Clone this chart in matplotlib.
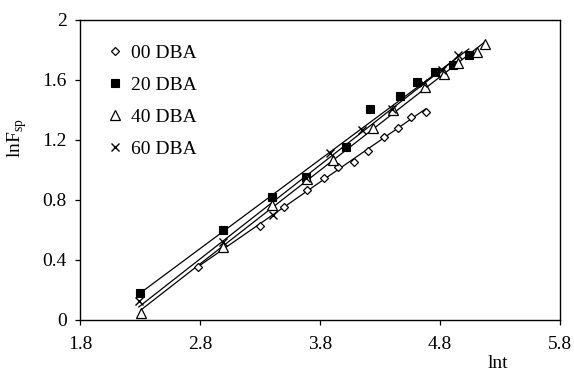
import numpy as np
import matplotlib
matplotlib.use("Agg")
import matplotlib.pyplot as plt

plt.rcParams['font.family'] = ['Liberation Serif', 'DejaVu Serif']

# data (x = lnt, y = lnFsp)
x00 = [2.78, 3.30, 3.50, 3.69, 3.83, 3.95, 4.08, 4.20, 4.33, 4.45, 4.56, 4.68]
y00 = [0.355, 0.627, 0.751, 0.867, 0.947, 1.022, 1.056, 1.127, 1.222, 1.282, 1.356, 1.389]

x20 = [2.30, 2.99, 3.40, 3.68, 4.02, 4.22, 4.47, 4.61, 4.76, 4.91, 5.04]
y20 = [0.182, 0.600, 0.818, 0.956, 1.151, 1.404, 1.493, 1.584, 1.656, 1.698, 1.770]

x40 = [2.31, 2.99, 3.40, 3.69, 3.91, 4.24, 4.41, 4.675, 4.83, 4.95, 5.11, 5.175]
y40 = [0.045, 0.489, 0.767, 0.938, 1.065, 1.278, 1.400, 1.556, 1.640, 1.711, 1.789, 1.840]

x60 = [2.29, 2.99, 3.41, 3.68, 3.88, 4.15, 4.40, 4.66, 4.82, 4.95]
y60 = [0.129, 0.522, 0.700, 0.950, 1.110, 1.267, 1.410, 1.580, 1.667, 1.767]

labels = ['00 DBA', '20 DBA', '40 DBA', '60 DBA']
xticks = [1.8, 2.8, 3.8, 4.8, 5.8]
yticks = [0, 0.4, 0.8, 1.2, 1.6, 2]

fig = plt.figure(figsize=(5.74, 3.73), dpi=100)
ax = fig.add_axes([80 / 574, 53 / 373, 480 / 574, 300 / 373])

series = [
    (x00, y00, dict(marker='D', ms=4.2, mfc='white', mec='black', mew=0.9)),
    (x20, y20, dict(marker='s', ms=5.5, mfc='black', mec='black', mew=0.8)),
    (x40, y40, dict(marker='^', ms=6.5, mfc='white', mec='black', mew=0.9)),
    (x60, y60, dict(marker='x', ms=5.5, mfc='black', mec='black', mew=1.0)),
]

for (xs, ys, style), lab in zip(series, labels):
    xs = np.array(xs)
    ys = np.array(ys)
    # linear trendline over the data range
    k, b = np.polyfit(xs, ys, 1)
    xl = np.array([xs.min(), xs.max()])
    ax.plot(xl, k * xl + b, color='black', lw=0.9, zorder=2)
    ax.plot(xs, ys, ls='none', label=lab, zorder=3, **style)

ax.set_xlim(1.8, 5.8)
ax.set_ylim(0, 2)
ax.set_xticks(xticks)
ax.set_xticklabels([str(t) for t in xticks])
ax.set_yticks(yticks)
ax.set_yticklabels(['0', '0.4', '0.8', '1.2', '1.6', '2'])
ax.tick_params(direction='out', length=3.6, width=0.9, labelsize=14)
ax.tick_params(axis='x', pad=8)
ax.tick_params(axis='y', pad=6)
for s in ax.spines.values():
    s.set_linewidth(1.0)

fig.text(498 / 574, 1 - 364 / 373, 'lnt', fontsize=14, ha='center', va='center')
fig.text(17 / 574, 1 - 138 / 373, 'lnF$_{\\mathregular{sp}}$', fontsize=14,
         rotation=90, ha='center', va='center')

ax.legend(loc='upper left', bbox_to_anchor=(0.045, 0.945), frameon=False,
          fontsize=14, handlelength=0.6, handletextpad=0.5,
          labelspacing=0.74, borderaxespad=0)

fig.savefig('out.png', dpi=100)
